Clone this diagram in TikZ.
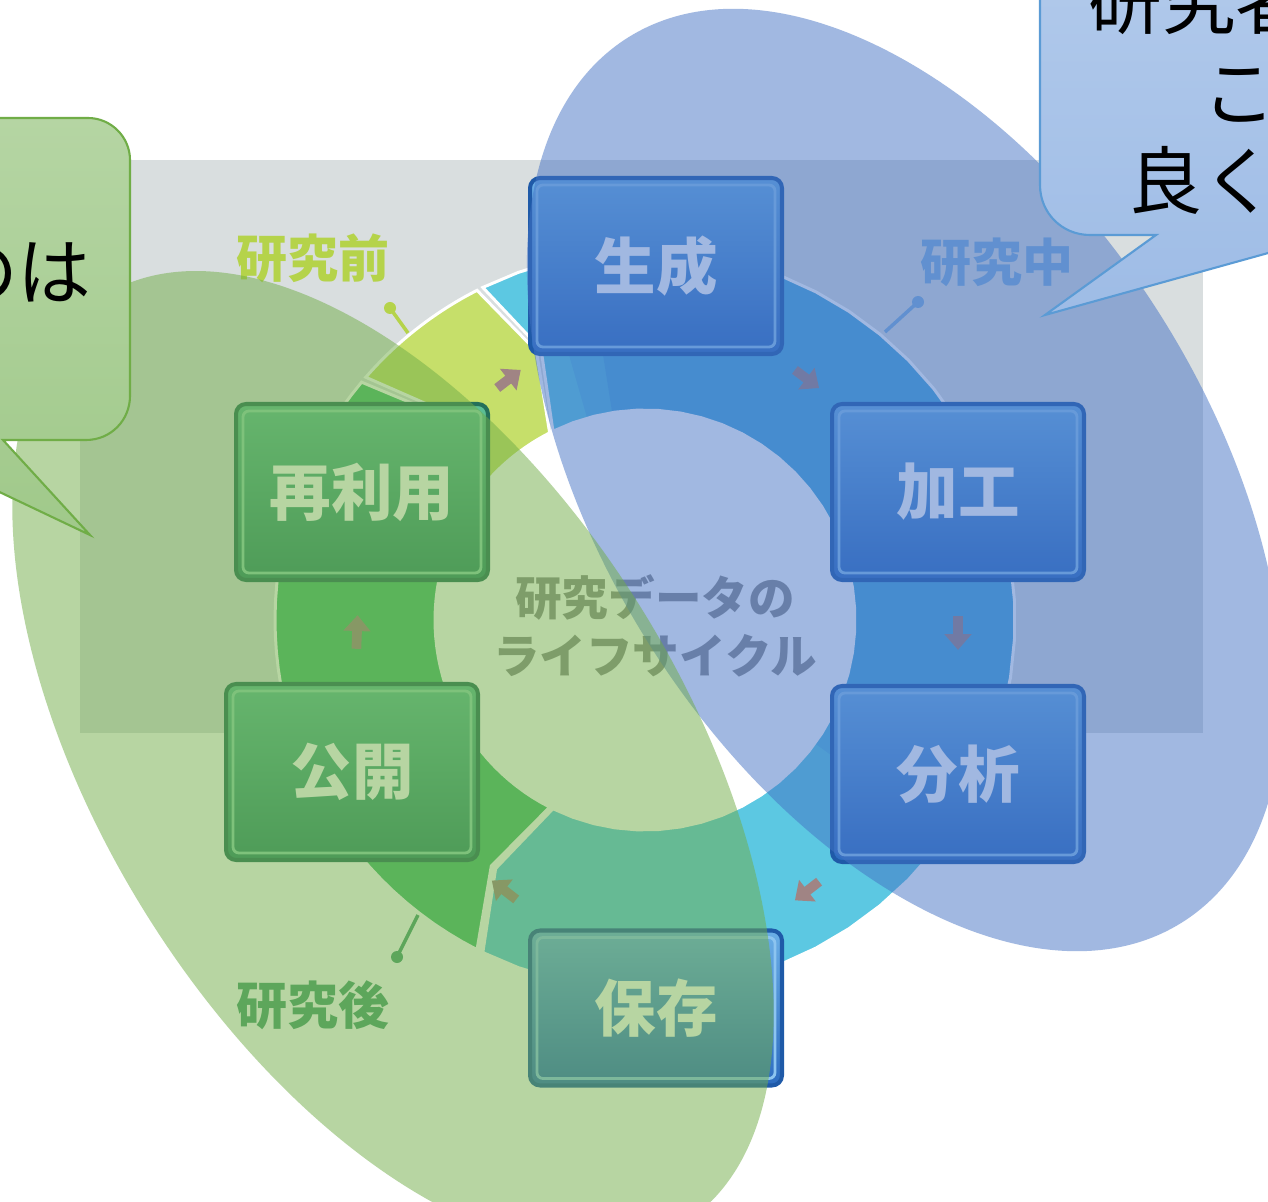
\documentclass[tikz,border=0pt]{standalone}
\usepackage{fontspec}
\newfontfamily\jp{Noto Sans CJK JP}
\usetikzlibrary{arrows.meta,calc}

\definecolor{bgGray}{HTML}{D9DEDF}
\definecolor{ringYG}{HTML}{C6DF6A}
\definecolor{ringCyan}{HTML}{5CC8E2}
\definecolor{ringBlue}{HTML}{4AA8DC}
\definecolor{ringGreen}{HTML}{46BD6E}
\definecolor{boxBlueTop}{HTML}{6AAEE6}
\definecolor{boxBlueBot}{HTML}{2D6CC0}
\definecolor{boxBlueLine}{HTML}{1F5AA8}
\definecolor{boxBlueInner}{HTML}{8CC4F0}
\definecolor{boxGreenTop}{HTML}{5DBF95}
\definecolor{boxGreenBot}{HTML}{2D8A6A}
\definecolor{boxGreenLine}{HTML}{24705A}
\definecolor{boxGreenInner}{HTML}{8ED8B0}
\definecolor{arrowCol}{HTML}{A08484}
\definecolor{lblPre}{HTML}{B5D34A}
\definecolor{lblMid}{HTML}{7FB0DE}
\definecolor{lblPost}{HTML}{4AA070}
\definecolor{centerGray}{HTML}{8E8E8E}
\definecolor{ovBlue}{HTML}{4472C4}
\definecolor{ovGreen}{HTML}{70AD47}
\definecolor{calBlueTop}{HTML}{B2CAEB}
\definecolor{calBlueBot}{HTML}{9EBCE6}
\definecolor{calBlueLine}{HTML}{5B9BD5}
\definecolor{calGreenTop}{HTML}{B5D5A3}
\definecolor{calGreenBot}{HTML}{A0C98A}
\definecolor{calGreenLine}{HTML}{70AD47}

\newcommand\segpath[2]{plot[domain=#1:#2,samples=40] (\x:370) -- ({#2+5}:290) -- plot[domain=#2:#1,samples=40] (\x:210) -- ({#1+5}:290) -- cycle}

\tikzset{
  ringedge/.style={draw=white, line width=1.7pt},
  boxbase/.style={line width=2.3pt, rounded corners=0.2cm, minimum width=5.04cm, minimum height=3.52cm, inner sep=0pt, text=white, font=\jp\bfseries\fontsize{35pt}{40pt}\selectfont},
  bluebox/.style={boxbase, draw=boxBlueLine, top color=boxBlueTop, bottom color=boxBlueBot},
  greenbox/.style={boxbase, draw=boxGreenLine, top color=boxGreenTop, bottom color=boxGreenBot},
  innerline/.style={line width=1.6pt, rounded corners=0.12cm},
  smallarrow/.style={draw=arrowCol, line width=5.5pt, -{Triangle[width=15pt,length=9pt]}},
  phaselabel/.style={inner sep=0pt, font=\jp\bfseries\fontsize{29pt}{32pt}\selectfont},
  pinline/.style={line width=2pt},
  calltext/.style={inner sep=0pt, text=black, font=\jp\fontsize{42pt}{50pt}\selectfont},
}

\begin{document}
\begin{tikzpicture}[x=0.02cm, y=-0.02cm]
\useasboundingbox (0,0) rectangle (1268,1202);
\clip (0,0) rectangle (1268,1202);
\fill[white] (0,0) rectangle (1268,1202);

% background panel
\fill[bgGray] (80,160) rectangle (1203,733);

% ring
\begin{scope}[shift={(645,620)}]
  \fill[white] (0,0) circle (212);
  % yellow-green (before research)
  \filldraw[ringedge, fill=ringYG] \segpath{-139}{-117};
  % cyan/blue (during research and storage)
  \begin{scope}
    \clip \segpath{-116}{116};
    \fill[ringCyan] (-400,-400) rectangle (400,400);
    \fill[ringCyan!50!ringBlue] (0,0) -- plot[domain=-106:36,samples=40] (\x:420) -- cycle;
    \fill[ringBlue] (0,0) -- plot[domain=-99:27,samples=40] (\x:420) -- cycle;
  \end{scope}
  \draw[ringedge] \segpath{-116}{116};
  % green (after research)
  \filldraw[ringedge, fill=ringGreen] \segpath{117}{220};
\end{scope}

% phase labels and pins
\node[phaselabel, text=lblPre] (pre) at (313,258) {研究前};
\node[phaselabel, text=lblMid] (mid) at (997,262) {研究中};
\node[phaselabel, text=lblPost] (post) at (313,1005) {研究後};
\coordinate (preDot) at (390,308);  \coordinate (preEnd) at (408,333);
\coordinate (midDot) at (918,302);  \coordinate (midEnd) at (885,332);
\coordinate (postDot) at (397,957); \coordinate (postEnd) at (418,915);
\draw[pinline, lblPre] (preDot) -- (preEnd);   \fill[lblPre] (preDot) circle (6);
\draw[pinline, lblMid] (midDot) -- (midEnd);   \fill[lblMid] (midDot) circle (6);
\draw[pinline, lblPost] (postDot) -- (postEnd); \fill[lblPost] (postDot) circle (6);

% boxes
\node[bluebox] (seisei) at (656,266) {生成};
\node[bluebox] (kakou) at (958,492) {加工};
\node[bluebox] (bunseki) at (958,774) {分析};
\node[bluebox, minimum height=3.1cm] (hozon) at (656,1008) {保存};
\node[greenbox] (koukai) at (352,772) {公開};
\node[greenbox] (sairiyou) at (362,492) {再利用};
\foreach \n in {seisei,kakou,bunseki,hozon}
  \draw[innerline, boxBlueInner] ([shift={(9,9)}]\n.north west) rectangle ([shift={(-9,-9)}]\n.south east);
\foreach \n in {koukai,sairiyou}
  \draw[innerline, boxGreenInner] ([shift={(9,9)}]\n.north west) rectangle ([shift={(-9,-9)}]\n.south east);

% small flow arrows
\draw[smallarrow] ($(seisei)!0.46!(kakou)$) -- ($(seisei)!0.54!(kakou)$);
\draw[smallarrow] ($(kakou)!0.44!(bunseki)$) -- ($(kakou)!0.56!(bunseki)$);
\draw[smallarrow] ($(bunseki)!0.46!(hozon)$) -- ($(bunseki)!0.54!(hozon)$);
\draw[smallarrow] ($(hozon)!0.46!(koukai)$) -- ($(hozon)!0.54!(koukai)$);
\draw[smallarrow] ($(koukai)!0.44!(sairiyou)$) -- ($(koukai)!0.56!(sairiyou)$);
\draw[smallarrow] ($(sairiyou)!0.46!(seisei)$) -- ($(sairiyou)!0.54!(seisei)$);

% centre title
\node[align=center, inner sep=0pt, text=centerGray, font=\jp\bfseries\fontsize{26.5pt}{33pt}\selectfont] (title) at (655,626) {研究データの\\ライフサイクル};

% translucent ellipses
\fill[ovBlue, opacity=0.5, rotate around={-58:(905,480)}] (905,480) ellipse [x radius=522, y radius=304];
\fill[ovGreen, opacity=0.5, rotate around={-58:(393,760)}] (393,760) ellipse [x radius=547, y radius=291];

% right callout
\path[draw=calBlueLine, line width=1.2pt, top color=calBlueTop, bottom color=calBlueBot]
  (1040,-60) -- (1040,185) .. controls (1040,213) and (1062,235) .. (1090,235)
  -- (1156,235) -- (1045,315) -- (1333,235) -- (1420,235) -- (1420,-60) -- cycle;
\node[calltext, anchor=west] (cA) at (1088,1) {研究者};
\node[calltext] (cB) at (1239,95) {こ};
\node[calltext, anchor=west] (cC) at (1128,180) {良く};

% left callout
\path[draw=calGreenLine, line width=1.2pt, top color=calGreenTop, bottom color=calGreenBot]
  (-150,118) -- (88,118) .. controls (111,118) and (130,137) .. (130,160)
  -- (130,396) .. controls (130,420) and (111,440) .. (86,440)
  -- (3,440) -- (90,535) -- (-110,440) -- (-150,440) -- cycle;
\node[calltext, anchor=east] (cL) at (92,272) {のは};
\end{tikzpicture}
\end{document}
